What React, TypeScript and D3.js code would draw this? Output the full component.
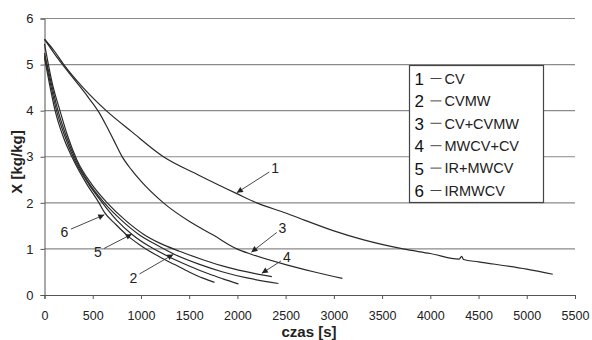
import React, { useEffect, useRef } from 'react';
import * as d3 from 'd3';

const width = 592;
const height = 340;
const margin = { top: 18.5, right: 17, bottom: 45, left: 44.5 };

const xTicks = [0, 500, 1000, 1500, 2000, 2500, 3000, 3500, 4000, 4500, 5000, 5500];
const yTicks = [0, 1, 2, 3, 4, 5, 6];

const seriesIds = ['1', '2', '3', '4', '5', '6'];
const seriesNames = ['CV', 'CVMW', 'CV+CVMW', 'MWCV+CV', 'IR+MWCV', 'IRMWCV'];

// [czas s, X kg/kg]
const curveCV: [number, number][] = [
	[0, 5.55], [100, 5.3], [200, 5.0], [400, 4.5], [640, 4.0], [900, 3.55], [1233, 3.0], [1600, 2.6],
	[1994, 2.2], [2200, 2.0], [2500, 1.78], [2700, 1.62], [3000, 1.39], [3300, 1.2], [3717, 1.0],
	[4000, 0.9], [4300, 0.78], [4325, 0.84], [4345, 0.77], [4500, 0.72], [5000, 0.56], [5270, 0.45],
];
const curveCVMW: [number, number][] = [
	[0, 5.25], [70, 4.6], [140, 4.0], [225, 3.45], [325, 2.93], [470, 2.4], [620, 2.0], [800, 1.62],
	[974, 1.32], [1150, 1.1], [1350, 0.88], [1600, 0.67], [1850, 0.5], [2100, 0.37], [2425, 0.25],
];
const curveCVCVMW: [number, number][] = [
	[0, 5.55], [150, 5.1], [300, 4.7], [450, 4.3], [560, 3.98], [640, 3.68], [720, 3.35], [800, 3.02],
	[900, 2.72], [1000, 2.47], [1233, 2.0], [1500, 1.6], [1750, 1.3], [1994, 1.0], [2150, 0.88],
	[2500, 0.66], [2800, 0.5], [3088, 0.36],
];
const curveMWCVCV: [number, number][] = [
	[0, 5.45], [80, 4.6], [160, 4.0], [240, 3.45], [336, 2.93], [490, 2.4], [650, 2.0], [840, 1.62],
	[1026, 1.32], [1200, 1.12], [1400, 0.95], [1650, 0.76], [1900, 0.6], [2150, 0.48], [2357, 0.4],
];
const curveIRMWCV2: [number, number][] = [
	[0, 5.2], [60, 4.6], [125, 4.0], [210, 3.45], [312, 2.93], [460, 2.4], [600, 2.0], [750, 1.62],
	[905, 1.32], [1100, 1.04], [1300, 0.82], [1500, 0.63], [1700, 0.46], [1850, 0.35], [2011, 0.24],
];
const curveIRMWCV: [number, number][] = [
	[0, 5.15], [50, 4.6], [110, 4.0], [200, 3.4], [300, 2.93], [440, 2.4], [565, 2.0], [620, 1.8],
	[740, 1.53], [854, 1.3], [1000, 1.07], [1200, 0.82], [1350, 0.66], [1500, 0.5], [1650, 0.36], [1762, 0.275],
];
const seriesData = [curveCV, curveCVMW, curveCVCVMW, curveMWCVCV, curveIRMWCV2, curveIRMWCV];

// number labels on the plot: where the digit sits and where its arrow points
const labelSpots: [number, number][] = [[2391, 2.75], [922, 0.38], [2466, 1.45], [2512, 0.82], [553, 0.94], [207, 1.37]];
const arrowTips: [number, number][] = [[1994, 2.22], [1335, 0.88], [2145, 0.93], [2253, 0.47], [905, 1.32], [620, 1.74]];

export default function App() {
	const ref = useRef<SVGSVGElement>(null);

	useEffect(() => {
		const svg = d3.select(ref.current);
		svg.selectAll('*').remove();
		const font = '"Liberation Sans", Arial, sans-serif';

		const xScale = d3.scaleLinear().domain([0, 5500]).range([margin.left, width - margin.right]);
		const yScale = d3.scaleLinear().domain([0, 6]).range([height - margin.bottom, margin.top]);

		const defs = svg.append('defs');
		defs.append('marker')
			.attr('id', 'head')
			.attr('viewBox', '0 0 10 10')
			.attr('refX', 10)
			.attr('refY', 5)
			.attr('markerWidth', 7)
			.attr('markerHeight', 6)
			.attr('markerUnits', 'userSpaceOnUse')
			.attr('orient', 'auto')
			.append('path')
			.attr('d', 'M0,0L10,5L0,10Z')
			.attr('fill', '#222');

		// gridlines
		svg.append('g')
			.selectAll('line')
			.data(yTicks.filter(d => d > 0))
			.enter()
			.append('line')
			.attr('x1', margin.left)
			.attr('x2', width - margin.right)
			.attr('y1', d => yScale(d))
			.attr('y2', d => yScale(d))
			.attr('stroke', '#8a8a8a')
			.attr('stroke-width', 1.2);

		// axes
		const xAxis = svg.append('g')
			.attr('transform', `translate(0,${yScale(0)})`)
			.call(d3.axisBottom(xScale).tickValues(xTicks).tickSize(4).tickPadding(12).tickFormat(d3.format('d')));
		const yAxis = svg.append('g')
			.attr('transform', `translate(${margin.left},0)`)
			.call(d3.axisLeft(yScale).tickValues(yTicks).tickSize(4).tickPadding(7).tickFormat(d3.format('d')));
		[xAxis, yAxis].forEach(ax => {
			ax.select('.domain').attr('stroke', '#555');
			ax.selectAll('.tick line').attr('stroke', '#555');
			ax.selectAll('.tick text').attr('fill', '#222').style('font', `12.5px ${font}`);
		});
		yAxis.selectAll('.tick text').style('font', `13px ${font}`);

		// curves
		const line = d3.line<[number, number]>()
			.x(d => xScale(d[0]))
			.y(d => yScale(d[1]))
			.curve(d3.curveMonotoneX);
		svg.append('g')
			.selectAll('path')
			.data(seriesData)
			.enter()
			.append('path')
			.attr('d', d => line(d))
			.attr('fill', 'none')
			.attr('stroke', '#2a2a2a')
			.attr('stroke-width', 1.2);

		// arrows with numbers
		const notes = svg.append('g');
		seriesIds.forEach((id, i) => {
			const lx = xScale(labelSpots[i][0]);
			const ly = yScale(labelSpots[i][1]);
			const tx = xScale(arrowTips[i][0]);
			const ty = yScale(arrowTips[i][1]);
			const len = Math.hypot(tx - lx, ty - ly);
			const sx = lx + ((tx - lx) / len) * 7;
			const sy = ly + ((ty - ly) / len) * 7;
			notes.append('line')
				.attr('x1', sx).attr('y1', sy).attr('x2', tx).attr('y2', ty)
				.attr('stroke', '#333').attr('stroke-width', 0.9)
				.attr('marker-end', 'url(#head)');
			notes.append('text')
				.attr('x', lx).attr('y', ly)
				.attr('text-anchor', 'middle').attr('dy', '0.36em')
				.attr('fill', '#222')
				.style('font', `14px ${font}`)
				.text(id);
		});

		// legend
		const lg = svg.append('g').attr('transform', 'translate(409.5,65.5)');
		lg.append('rect').attr('width', 134).attr('height', 137).attr('fill', '#fff').attr('stroke', '#444').attr('stroke-width', 1.2);
		seriesNames.forEach((name, i) => {
			const cy = 13 + i * 22.4;
			lg.append('text').attr('x', 5).attr('y', cy).attr('dy', '0.38em').attr('fill', '#111')
				.style('font', `17px ${font}`).text(seriesIds[i]);
			lg.append('line').attr('x1', 21).attr('x2', 32).attr('y1', cy).attr('y2', cy).attr('stroke', '#444').attr('stroke-width', 1);
			lg.append('text').attr('x', 35).attr('y', cy).attr('dy', '0.36em').attr('fill', '#222')
				.style('font', `14.5px ${font}`).text(name);
		});

		// axis titles
		svg.append('text')
			.attr('x', 309).attr('y', 337)
			.attr('text-anchor', 'middle').attr('fill', '#222')
			.style('font', `bold 15px ${font}`)
			.text('czas [s]');
		svg.append('text')
			.attr('transform', 'translate(22,162) rotate(-90)')
			.attr('text-anchor', 'middle').attr('fill', '#222')
			.style('font', `bold 15px ${font}`)
			.text('X [kg/kg]');
	}, []);

	return (
		<svg ref={ref} width={width} height={height} style={{ position: 'absolute', left: 0, top: 0, background: '#fff' }} />
	);
}
